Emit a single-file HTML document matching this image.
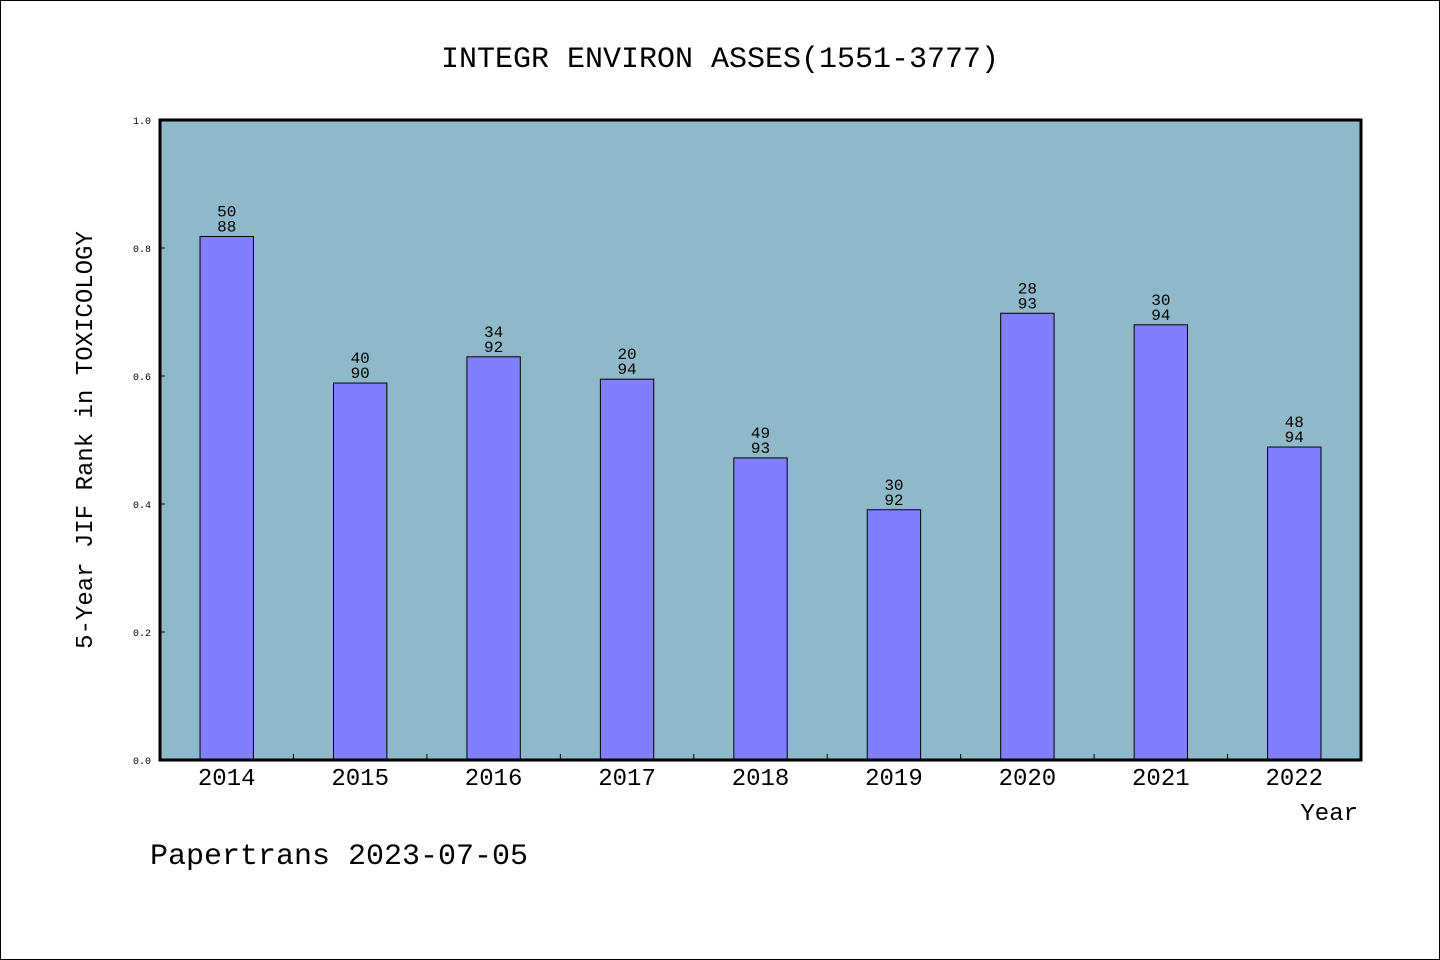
<!DOCTYPE html>
<html><head><meta charset="utf-8"><style>
html,body{margin:0;padding:0;background:#fff}
svg{display:block}
text{font-family:"WenQuanYi Zen Hei","Liberation Mono",monospace;fill:#000}
</style></head><body>
<svg width="1440" height="960" viewBox="0 0 1440 960">
<rect x="0.5" y="0.5" width="1439" height="959" fill="#fff" stroke="#000"/>
<text x="720" y="67" font-size="30" text-anchor="middle">INTEGR ENVIRON ASSES(1551-3777)</text>
<rect x="160" y="120" width="1201" height="640" fill="#8fb8c8"/>
<g id="bars"></g>
<g id="axes"></g>
<rect x="160" y="120" width="1201" height="640" fill="none" stroke="#000" stroke-width="3"/>
<text x="92" y="440" font-size="24" text-anchor="middle" transform="rotate(-90 92 440)">5-Year JIF Rank in TOXICOLOGY</text>
<text x="1358" y="820" font-size="24" text-anchor="end">Year</text>
<text x="150" y="864" font-size="30">Papertrans 2023-07-05</text>
</svg>
<script>
const years=["2014","2015","2016","2017","2018","2019","2020","2021","2022"];
const values=[0.818,0.589,0.630,0.595,0.472,0.391,0.698,0.680,0.489];
const ranks=["50","40","34","20","49","30","28","30","48"];
const totals=["88","90","92","94","93","92","93","94","94"];
const yTicks=[0,0.2,0.4,0.6,0.8,1.0];
const ns="http://www.w3.org/2000/svg";
const X0=160,X1=1361,Y0=760,Y1=120;
const step=(X1-X0)/years.length;
const xc=i=>X0+step*(i+0.5);
const y=v=>Y0-(Y0-Y1)*v;
const bw=step*0.4;
const bars=document.getElementById('bars'),axes=document.getElementById('axes');
function mk(tag,attrs,parent){const e=document.createElementNS(ns,tag);for(const k in attrs)e.setAttribute(k,attrs[k]);parent.appendChild(e);return e;}
years.forEach((yr,i)=>{
  const r=mk('rect',{x:xc(i)-bw/2,y:y(values[i]),width:bw,height:Y0-y(values[i]),fill:'#8080ff',stroke:'#000','stroke-width':1},bars);
  
  
  const t1=mk('text',{x:xc(i),y:y(values[i])-20,'font-size':16,'text-anchor':'middle'},bars);
  t1.textContent=ranks[i];
  
  
  const t2=mk('text',{x:xc(i),y:y(values[i])-5,'font-size':16,'text-anchor':'middle'},bars);
  t2.textContent=totals[i];
  
  
  const xl=mk('text',{x:xc(i),y:785,'font-size':24,'text-anchor':'middle'},axes);
  xl.textContent=yr;
  
  
  if(i>0){
    const tk=mk('line',{x1:X0+step*i,x2:X0+step*i,y1:Y0,y2:Y0-6,stroke:'#000','stroke-width':1},axes);
    
    
  }
});
yTicks.forEach(v=>{
  const t=mk('text',{x:151,y:y(v)+4,'font-size':10,'text-anchor':'end'},axes);
  t.textContent=v.toFixed(1);
  
  
  const l=mk('line',{x1:X0,x2:X0+5,y1:y(v),y2:y(v),stroke:'#000','stroke-width':1},axes);
  
  
});
</script>
</body></html>
